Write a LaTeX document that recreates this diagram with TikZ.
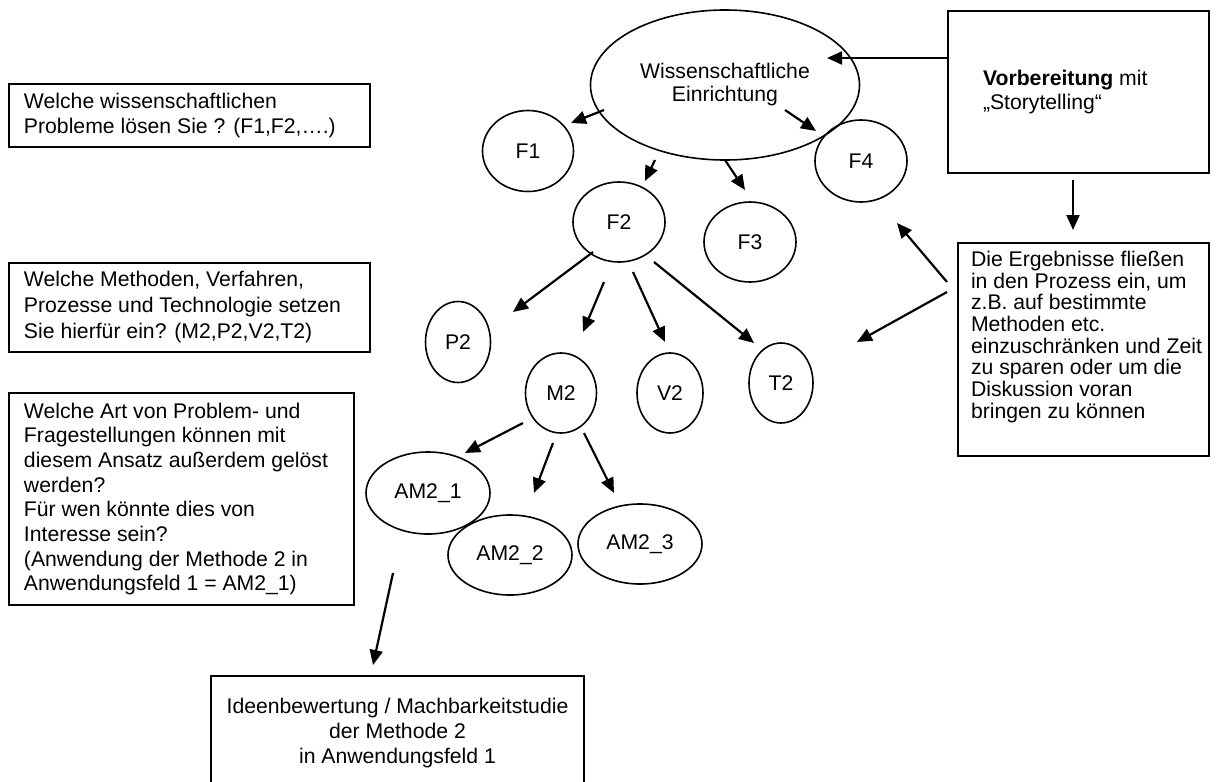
\documentclass[tikz,border=0pt]{standalone}
\usepackage{fontspec}
\setmainfont{Liberation Sans}
\usetikzlibrary{shapes.geometric,arrows.meta}
\newcommand\dfont{\fontsize{10.6pt}{12.5pt}\selectfont}
\tikzset{
  ell/.style={draw, ellipse, line width=0.8pt, inner sep=0pt, font=\dfont},
  tbox/.style={draw, rectangle, line width=1pt, inner sep=0pt, anchor=north west},
  arr/.style={line width=1.1pt, -{Triangle[length=7.5pt,width=6.5pt]}},
}
\begin{document}
\begin{tikzpicture}[x=0.5pt, y=-0.5pt]
\useasboundingbox (0,0) rectangle (1217,782);

% question boxes (left)
\node[tbox, minimum width=180.5pt, minimum height=31.5pt] (q1) at (8,83)
  {\hspace*{7.5pt}\parbox{173pt}{\raggedright\fontsize{10.6pt}{12.5pt}\selectfont
   Welche wissenschaftlichen\\Probleme lösen Sie ? (F1,F2,….)}};
\node[tbox, minimum width=180.5pt, minimum height=44.5pt] (q2) at (8,262)
  {\hspace*{7.5pt}\parbox{173pt}{\raggedright\fontsize{10.6pt}{13pt}\selectfont
   Welche Methoden, Verfahren,\\Prozesse und Technologie setzen\\Sie hierfür ein? (M2,P2,V2,T2)}};
\node[tbox, minimum width=172.5pt, minimum height=106pt] (q3) at (8,392)
  {\hspace*{7.5pt}\parbox{165pt}{\raggedright\fontsize{10.6pt}{12.35pt}\selectfont
   Welche Art von Problem- und\\Fragestellungen können mit\\diesem Ansatz außerdem gelöst\\werden?\\Für wen könnte dies von\\Interesse sein?\\(Anwendung der Methode 2 in\\Anwendungsfeld 1 = AM2\_1)}};

% bottom box
\node[tbox, minimum width=186.5pt, minimum height=57pt, align=center,
      font=\fontsize{10.6pt}{12.5pt}\selectfont] (ideen) at (210,675)
  {Ideenbewertung / Machbarkeitstudie\\der Methode 2\\in Anwendungsfeld 1};

% right boxes
\node[tbox, minimum width=130.5pt, minimum height=81pt] (vorb) at (947,10)
  {\hspace*{17.5pt}\parbox{113pt}{\raggedright\fontsize{10.6pt}{12pt}\selectfont
   \textbf{Vorbereitung} mit\\„Storytelling“}};
\node[tbox, minimum width=125.5pt, minimum height=106.5pt] (erg) at (957,242)
  {\hspace*{6.5pt}\parbox[c][106.5pt][t]{119pt}{\raggedright\fontsize{10.6pt}{10.85pt}\selectfont
   \vspace*{4pt}Die Ergebnisse fließen\\in den Prozess ein, um\\z.B. auf bestimmte\\Methoden etc.\\einzuschränken und Zeit\\zu sparen oder um die\\Diskussion voran\\bringen zu können}};

% ellipses
\node[ell, minimum width=134.5pt, minimum height=75pt, align=center,
      font=\fontsize{10.6pt}{11.5pt}\selectfont] (WE) at (725,85) {Wissenschaftliche\\Einrichtung};
\node[ell, minimum width=45.5pt, minimum height=40.5pt] (F1) at (528,151) {F1};
\node[ell, minimum width=46pt, minimum height=40pt] (F2) at (619,222) {F2};
\node[ell, minimum width=46pt, minimum height=40pt] (F3) at (750,242) {F3};
\node[ell, minimum width=46pt, minimum height=41pt] (F4) at (861,161) {F4};
\node[ell, minimum width=32.5pt, minimum height=40.5pt] (P2) at (458,342) {P2};
\node[ell, minimum width=35.5pt, minimum height=40pt] (M2) at (561,393) {M2};
\node[ell, minimum width=33pt, minimum height=40pt] (V2) at (670,393) {V2};
\node[ell, minimum width=32pt, minimum height=40pt] (T2) at (781,383) {T2};
\node[ell, minimum width=62pt, minimum height=41pt] (AM21) at (428,493) {AM2\_1};
\node[ell, minimum width=62pt, minimum height=40pt] (AM22) at (510,555) {AM2\_2};
\node[ell, minimum width=62pt, minimum height=40pt] (AM23) at (640,544) {AM2\_3};

% free arrow ends
\coordinate (VWs) at (947,58);   \coordinate (VWe) at (827,58);
\coordinate (WF1s) at (604,110); \coordinate (WF1e) at (571,123);
\coordinate (WF4s) at (785,110); \coordinate (WF4e) at (816,131);
\coordinate (WF2s) at (655,160); \coordinate (WF2e) at (645,181);
\coordinate (WF3s) at (725,160); \coordinate (WF3e) at (745,190);
\coordinate (VEs) at (1073,180); \coordinate (VEe) at (1073,230);
\coordinate (EF4s) at (947,282); \coordinate (EF4e) at (897,223);
\coordinate (ET2s) at (947,292); \coordinate (ET2e) at (857,342);
\coordinate (FPs) at (593,252);  \coordinate (FPe) at (513,312);
\coordinate (FMs) at (604,282);  \coordinate (FMe) at (583,332);
\coordinate (FVs) at (633,272);  \coordinate (FVe) at (665,342);
\coordinate (FTs) at (654,262);  \coordinate (FTe) at (754,343);
\coordinate (MA1s) at (523,423); \coordinate (MA1e) at (465,453);
\coordinate (MA2s) at (553,443); \coordinate (MA2e) at (534,493);
\coordinate (MA3s) at (584,433); \coordinate (MA3e) at (614,493);
\coordinate (AIs) at (393,573);  \coordinate (AIe) at (373,665);

\draw[arr] (VWs) -- (VWe);
\draw[arr] (WF1s) -- (WF1e);
\draw[arr] (WF4s) -- (WF4e);
\draw[arr] (WF2s) -- (WF2e);
\draw[arr] (WF3s) -- (WF3e);
\draw[arr] (VEs) -- (VEe);
\draw[arr] (EF4s) -- (EF4e);
\draw[arr] (ET2s) -- (ET2e);
\draw[arr] (FPs) -- (FPe);
\draw[arr] (FMs) -- (FMe);
\draw[arr] (FVs) -- (FVe);
\draw[arr] (FTs) -- (FTe);
\draw[arr] (MA1s) -- (MA1e);
\draw[arr] (MA2s) -- (MA2e);
\draw[arr] (MA3s) -- (MA3e);
\draw[arr] (AIs) -- (AIe);
\end{tikzpicture}
\end{document}
